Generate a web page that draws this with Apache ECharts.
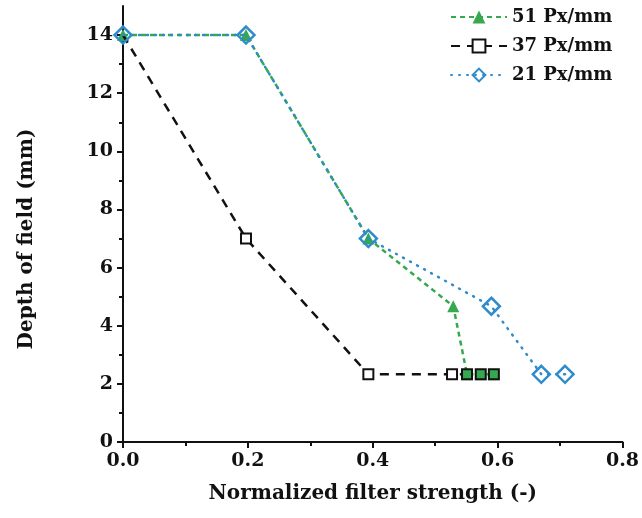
<!DOCTYPE html>
<html><head><meta charset="utf-8">
<script src="https://cdn.jsdelivr.net/npm/echarts@6/dist/echarts.min.js"></script>
<style>html,body{margin:0;padding:0;background:#fff}#c{width:642px;height:518px}</style>
</head><body><div id="c"></div>
<script>
var seriesNames = ['51 Px/mm', '37 Px/mm', '21 Px/mm'];
var x51 = [0, 0.197, 0.393, 0.529, 0.551, 0.573, 0.594];
var y51 = [14, 14, 7, 4.67, 2.33, 2.33, 2.33];
var x37 = [0, 0.197, 0.393, 0.527, 0.551, 0.573, 0.594];
var y37 = [14, 7, 2.33, 2.33, 2.33, 2.33, 2.33];
var x21 = [0, 0.197, 0.393, 0.590, 0.670, 0.708];
var y21 = [14, 14, 7, 4.67, 2.33, 2.33];
var yMajorTicks = [0, 2, 4, 6, 8, 10, 12, 14];
var yMinorTicks = [1, 3, 5, 7, 9, 11, 13];

var green = '#36a84f', blue = '#2f8ccb', black = '#111';
var FONT = 'DejaVu Serif';
function pts(xs, ys) { return xs.map(function (x, i) { return [x, ys[i]]; }); }
// points of 37 series overlapped by green markers are drawn filled green; first one hidden under diamond
var d37 = pts(x37, y37).map(function (p, i) {
  if (i === 0) return { value: p, symbol: 'none' };
  return i >= 4 ? { value: p, itemStyle: { color: green } } : p;
});

var chart = echarts.init(document.getElementById('c'), null, { renderer: 'canvas' });
chart.setOption({
  animation: false,
  grid: { left: 123, right: 15, top: 6, bottom: 76 },
  legend: {
    left: 450, top: 8, orient: 'vertical', padding: 0,
    itemWidth: 56, itemHeight: 16, itemGap: 11,
    data: seriesNames,
    textStyle: { fontFamily: FONT, fontWeight: 'bold', fontSize: 18, color: '#111' }
  },
  xAxis: {
    type: 'value', min: 0, max: 0.8, interval: 0.2,
    name: 'Normalized filter strength (-)', nameLocation: 'middle', nameGap: 42,
    nameTextStyle: { fontFamily: FONT, fontWeight: 'bold', fontSize: 20, color: '#111' },
    axisLine: { show: true, onZero: false, lineStyle: { color: '#111', width: 2 } },
    axisTick: { show: true, inside: false, length: 6, lineStyle: { color: '#111', width: 2 } },
    minorTick: { show: true, splitNumber: 2, length: 4, lineStyle: { color: '#111', width: 2 } },
    splitLine: { show: false },
    axisLabel: { fontFamily: FONT, fontWeight: 'bold', fontSize: 19, color: '#111', margin: 10,
      formatter: function (v) { return v.toFixed(1); } }
  },
  yAxis: [{
    type: 'value', min: 0, max: 15,
    name: 'Depth of field (mm)', nameLocation: 'middle', nameGap: 86,
    nameTextStyle: { fontFamily: FONT, fontWeight: 'bold', fontSize: 20, color: '#111', padding: [0, 30, 0, 0] },
    axisLine: { show: true, onZero: false, lineStyle: { color: '#111', width: 2 } },
    axisTick: { show: true, inside: false, length: 6, customValues: yMajorTicks, lineStyle: { color: '#111', width: 2 } },
    splitLine: { show: false },
    axisLabel: { fontFamily: FONT, fontWeight: 'bold', fontSize: 19, color: '#111', margin: 10, customValues: yMajorTicks }
  }, {
    type: 'value', min: 0, max: 15, position: 'left', offset: 0,
    axisLine: { show: false },
    axisTick: { show: true, inside: false, length: 4, customValues: yMinorTicks, lineStyle: { color: '#111', width: 2 } },
    axisLabel: { show: false, customValues: yMinorTicks },
    splitLine: { show: false }
  }],
  series: [{
    name: '37 Px/mm', type: 'line', data: d37, z: 2,
    symbol: 'rect', symbolSize: 10,
    lineStyle: { color: black, width: 2.5, type: [9, 7] },
    itemStyle: { color: '#fff', borderColor: black, borderWidth: 2 }
  }, {
    name: '51 Px/mm', type: 'line', data: pts(x51, y51), z: 1,
    symbol: 'triangle', symbolSize: 12,
    lineStyle: { color: green, width: 2.5, type: [5, 4] },
    itemStyle: { color: green, borderWidth: 0 }
  }, {
    name: '21 Px/mm', type: 'line', data: pts(x21, y21), z: 3,
    symbol: 'diamond', symbolSize: 17,
    lineStyle: { color: blue, width: 2.5, type: [1, 7], cap: 'round' },
    itemStyle: { color: 'rgba(255,255,255,0)', borderColor: blue, borderWidth: 2.5 }
  }]
});
</script></body></html>
